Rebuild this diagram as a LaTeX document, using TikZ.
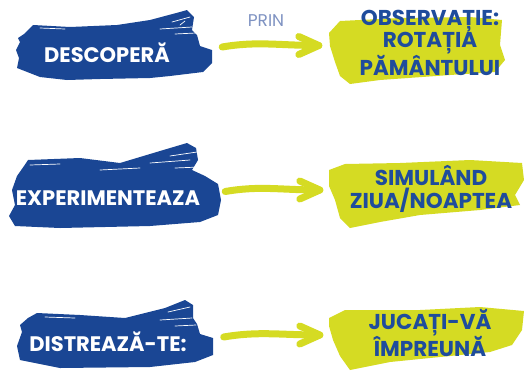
\documentclass[tikz,border=0pt]{standalone}
\usepackage{fontspec}
\usetikzlibrary{calc}
\newfontfamily\popfont{Poppins}
\definecolor{brushblue}{HTML}{1A4694}
\definecolor{textblue}{HTML}{1F4C9C}
\definecolor{brushyellow}{HTML}{D5DB23}
\definecolor{prinblue}{HTML}{7F93C2}
\tikzset{
  bluebrush/.style={fill=brushblue, draw=none},
  yellowbrush/.style={fill=brushyellow, draw=none},
  area/.style={draw=none, inner sep=0pt},
  bluelabel/.style={text=white, inner sep=0pt, font=\popfont\bfseries\fontsize{21}{24}\selectfont},
  yellowlabel/.style={text=textblue, inner sep=0pt, align=center, font=\popfont\bfseries\fontsize{21.5}{22.5}\selectfont},
  prinlabel/.style={text=prinblue, inner sep=0pt, font=\popfont\fontsize{17}{18}\selectfont},
  arrowstroke/.style={draw=brushyellow, line width=7pt, line cap=round, line join=round},
  streak/.style={draw=white, line width=0.7pt, line cap=round},
}
\begin{document}
\begin{tikzpicture}[x=1pt,y=-1pt]
\useasboundingbox (0,0) rectangle (524,373);

% ---------- brush areas (named) ----------
\node[area, minimum width=197pt, minimum height=70pt] (b1) at (113.5,45) {};
\node[area, minimum width=212pt, minimum height=85pt] (b2) at (115,185.5) {};
\node[area, minimum width=197pt, minimum height=70pt] (b3) at (115,334) {};
\node[area, minimum width=176pt, minimum height=67pt] (y1) at (417,50.5) {};
\node[area, minimum width=195pt, minimum height=68pt] (y2) at (426.5,195) {};
\node[area, minimum width=195pt, minimum height=63pt] (y3) at (426.5,339) {};

% ---------- blue brushes ----------
\path[bluebrush] (33,25) -- (70,27) -- (117,25) -- (150,20) -- (180,12) -- (187,10) -- (194,17)
  -- (192,30) -- (197,35) -- (200,46) -- (212,50) -- (212,63) -- (203,72) -- (170,76) -- (150,78)
  -- (100,79) -- (67,80) -- (40,77) -- (17,68) -- (19,58) -- (16,50) -- (20,42) -- (18,38) -- (24,34) -- cycle;
\draw[streak] (172,22) -- (190,17);
\draw[streak] (160,29) -- (192,27);
\draw[streak] (175,34) -- (196,33);
\draw[streak] (40,28) -- (65,29);
\draw[streak] (185,21) -- (180,25);

\path[bluebrush] (28,160) -- (80,158) -- (120,163) -- (160,151) -- (187,143) -- (196,148)
  -- (198,160) -- (192,170) -- (205,176) -- (218,184) -- (221,200) -- (218,215) -- (200,222)
  -- (150,226) -- (60,228) -- (15,226) -- (9,216) -- (15,205) -- (12,190) -- (17,176) -- (24,166) -- cycle;
\draw[streak] (170,156) -- (197,152);
\draw[streak] (150,163) -- (190,160);
\draw[streak] (100,170) -- (140,168);
\draw[streak] (175,168) -- (200,167);
\draw[streak] (30,165) -- (60,164);

\path[bluebrush] (37,313) -- (80,315) -- (125,318) -- (165,308) -- (185,300) -- (193,305)
  -- (193,318) -- (197,324) -- (200,334) -- (213,338) -- (213,355) -- (195,362) -- (150,367)
  -- (60,368) -- (20,360) -- (17,346) -- (22,332) -- (20,325) -- (28,318) -- cycle;
\draw[streak] (168,312) -- (190,307);
\draw[streak] (160,320) -- (192,318);
\draw[streak] (175,326) -- (196,325);
\draw[streak] (45,317) -- (75,318);

% ---------- yellow brushes ----------
\path[yellowbrush] (329,33) -- (340,21) -- (400,18) -- (470,17) -- (502,20) -- (500,45)
  -- (505,60) -- (495,72) -- (450,75) -- (380,80) -- (350,84) -- (340,76) -- (335,62) -- (330,46) -- cycle;
\path[yellowbrush] (329,170) -- (345,164) -- (400,163) -- (470,160) -- (522,163) -- (524,180)
  -- (515,195) -- (520,205) -- (480,210) -- (420,215) -- (380,222) -- (350,228) -- (340,218)
  -- (335,200) -- (329,186) -- cycle;
\path[yellowbrush] (329,318) -- (345,310) -- (420,310) -- (480,307) -- (524,311) -- (522,330)
  -- (512,345) -- (490,352) -- (440,357) -- (390,362) -- (350,370) -- (340,356) -- (333,340)
  -- (329,326) -- cycle;

% ---------- labels ----------
\node[bluelabel] (l1) at (107,53) {DESCOPERĂ};
\node[bluelabel] (l2) at (108,198) {EXPERIMENTEAZA};
\node[bluelabel] (l3) at (108,342) {DISTREAZĂ-TE:};

\node[yellowlabel] (r1) at (430,43) {OBSERVAȚIE:\\ROTAȚIA\\PĂMÂNTULUI};
\node[yellowlabel] (r2) at (431,189) {SIMULÂND\\ZIUA/NOAPTEA};
\node[yellowlabel] (r3) at (430,333) {JUCAȚI-VĂ\\ÎMPREUNĂ};

\node[prinlabel] (prin) at (266,21) {PRIN};

% ---------- arrows ----------
\coordinate (t1) at ([shift={(-10,-5)}]y1.west);
\coordinate (t2) at ([shift={(-9,-5)}]y2.west);
\coordinate (t3) at ([shift={(-9,-4)}]y3.west);

\draw[arrowstroke] ([shift={(10,2)}]b1.east) .. controls +(35,-6) and +(-40,0) .. (t1);
\draw[arrowstroke] ($(t1)+(-20,-9)$) -- (t1) -- ($(t1)+(-20,9)$);

\draw[arrowstroke] ([shift={(4,6)}]b2.east) .. controls +(35,-6) and +(-40,0) .. (t2);
\draw[arrowstroke] ($(t2)+(-20,-9)$) -- (t2) -- ($(t2)+(-20,9)$);

\draw[arrowstroke] ([shift={(10,3)}]b3.east) .. controls +(35,-6) and +(-40,0) .. (t3);
\draw[arrowstroke] ($(t3)+(-20,-9)$) -- (t3) -- ($(t3)+(-20,9)$);
\end{tikzpicture}
\end{document}
